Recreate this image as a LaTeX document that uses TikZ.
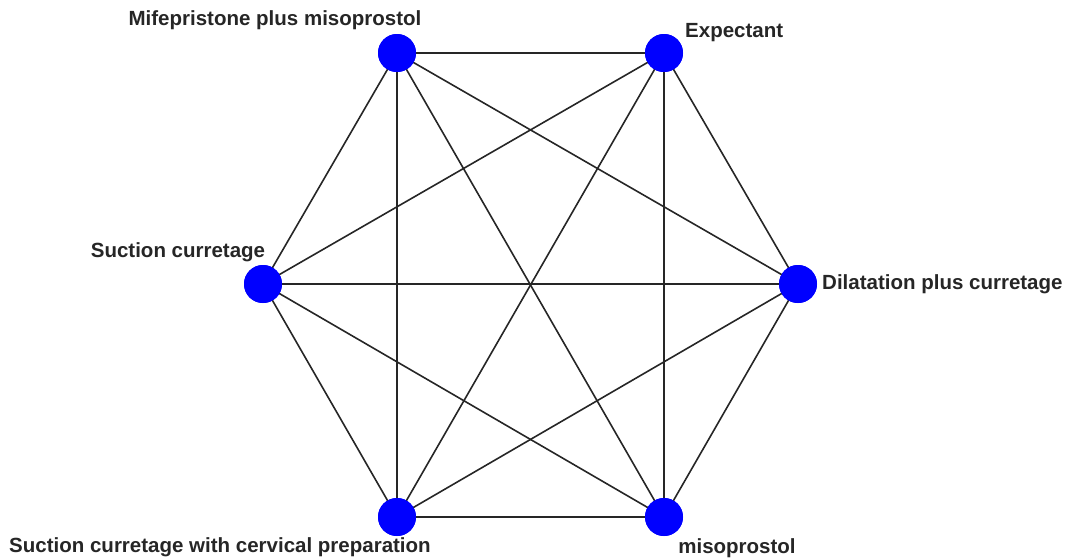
\documentclass[tikz,border=0pt]{standalone}
\usepackage{fontspec}
\setmainfont{Liberation Sans}
\begin{document}
\begin{tikzpicture}[x=1pt,y=-1pt,
  vert/.style={circle,fill={rgb,255:red,0;green,0;blue,255},draw=none,minimum size=38pt,inner sep=0pt},
  lab/.style={font=\fontsize{20.5}{24}\selectfont\bfseries,text=black!85,inner sep=0pt},
  edge/.style={draw=black!85,line width=1.6pt}]
\useasboundingbox (0,0) rectangle (1072,560);
\node[vert] (mm) at (397,53) {};
\node[vert] (ex) at (664,53) {};
\node[vert] (sc) at (263,284) {};
\node[vert] (dc) at (798,284) {};
\node[vert] (scp) at (397,517) {};
\node[vert] (mi) at (664,517) {};
\foreach \a/\b in {mm/ex,mm/sc,mm/scp,mm/dc,mm/mi,ex/sc,ex/scp,ex/dc,ex/mi,sc/dc,sc/scp,sc/mi,dc/scp,dc/mi,scp/mi}
  \draw[edge] (\a.center) -- (\b.center);
\node[vert] at (mm) {};
\node[vert] at (ex) {};
\node[vert] at (sc) {};
\node[vert] at (dc) {};
\node[vert] at (scp) {};
\node[vert] at (mi) {};
\node[lab] (lmm) at (275,20) {Mifepristone plus misoprostol};
\node[lab,anchor=west] (lex) at (685,33) {Expectant};
\node[lab] (lsc) at (178,252) {Suction curretage};
\node[lab,anchor=west] (ldc) at (822,284) {Dilatation plus curretage};
\node[lab] (lscp) at (220,547) {Suction curretage with cervical preparation};
\node[lab] (lmi) at (737,548) {misoprostol};
\end{tikzpicture}
\end{document}
